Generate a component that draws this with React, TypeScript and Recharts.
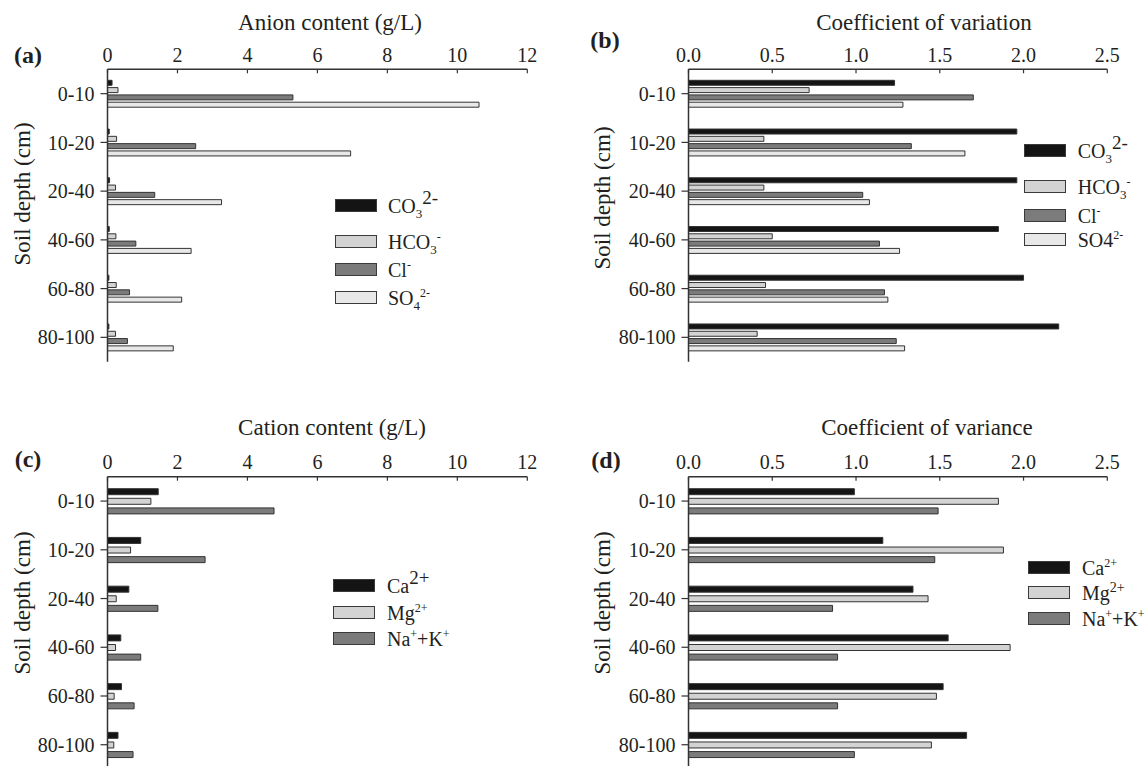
import React from 'react';
import { BarChart, Bar, XAxis, YAxis, Legend } from 'recharts';

const FONT = '"Liberation Serif", "Times New Roman", Times, serif';
const INK = '#231f20';
const AXIS = '#333333';

// ---------- data ----------
const depths = ['0-10', '10-20', '20-40', '40-60', '60-80', '80-100'];

// (a) anion content (g/L)
const anionCO3 = [0.13, 0.05, 0.06, 0.05, 0.04, 0.04];
const anionHCO3 = [0.3, 0.26, 0.23, 0.24, 0.25, 0.23];
const anionCl = [5.3, 2.52, 1.35, 0.81, 0.63, 0.57];
const anionSO4 = [10.62, 6.95, 3.26, 2.39, 2.12, 1.88];

// (b) coefficient of variation of anions
const cvCO3 = [1.23, 1.96, 1.96, 1.85, 2.0, 2.21];
const cvHCO3 = [0.72, 0.45, 0.45, 0.5, 0.46, 0.41];
const cvCl = [1.7, 1.33, 1.04, 1.14, 1.17, 1.24];
const cvSO4 = [1.28, 1.65, 1.08, 1.26, 1.19, 1.29];

// (c) cation content (g/L)
const cationCa = [1.45, 0.95, 0.61, 0.38, 0.4, 0.3];
const cationMg = [1.24, 0.66, 0.25, 0.23, 0.19, 0.18];
const cationNaK = [4.76, 2.79, 1.44, 0.95, 0.76, 0.73];

// (d) coefficient of variance of cations
const cvCa = [0.99, 1.16, 1.34, 1.55, 1.52, 1.66];
const cvMg = [1.85, 1.88, 1.43, 1.92, 1.48, 1.45];
const cvNaK = [1.49, 1.47, 0.86, 0.89, 0.89, 0.99];

const contentTicks = [0, 2, 4, 6, 8, 10, 12];
const cvTicks = [0, 0.5, 1.0, 1.5, 2.0, 2.5];

const BLACK = '#141414';
const LIGHT = '#d3d3d3';
const DARK = '#7b7b7b';
const LIGHTER = '#e8e8e8';

// ---------- label helpers ----------
const sub = (t: string) => (
  <span style={{ fontSize: 13, position: 'relative', top: 5 }}>{t}</span>
);
const sup = (t: string, size = 12, lift = -8) => (
  <span style={{ fontSize: size, position: 'relative', top: lift }}>{t}</span>
);

type Series = { key: string; values: number[]; fill: string; label: React.ReactNode };

const seriesA: Series[] = [
  { key: 'co3', values: anionCO3, fill: BLACK, label: <>CO{sub('3')}{sup('2-', 19, -9)}</> },
  { key: 'hco3', values: anionHCO3, fill: LIGHT, label: <>HCO{sub('3')}{sup('-')}</> },
  { key: 'cl', values: anionCl, fill: DARK, label: <>Cl{sup('-')}</> },
  { key: 'so4', values: anionSO4, fill: LIGHTER, label: <>SO{sub('4')}{sup('2-')}</> },
];
const seriesB: Series[] = [
  { key: 'co3', values: cvCO3, fill: BLACK, label: <>CO{sub('3')}{sup('2-', 19, -9)}</> },
  { key: 'hco3', values: cvHCO3, fill: LIGHT, label: <>HCO{sub('3')}{sup('-')}</> },
  { key: 'cl', values: cvCl, fill: DARK, label: <>Cl{sup('-')}</> },
  { key: 'so4', values: cvSO4, fill: LIGHTER, label: <>SO4{sup('2-')}</> },
];
const seriesC: Series[] = [
  { key: 'ca', values: cationCa, fill: BLACK, label: <>Ca{sup('2+', 19, -9)}</> },
  { key: 'mg', values: cationMg, fill: LIGHT, label: <>Mg{sup('2+')}</> },
  { key: 'nak', values: cationNaK, fill: DARK, label: <>Na{sup('+')}+K{sup('+')}</> },
];
const seriesD: Series[] = [
  { key: 'ca', values: cvCa, fill: BLACK, label: <>Ca{sup('2+')}</> },
  { key: 'mg', values: cvMg, fill: LIGHT, label: <>Mg{sup('2+', 14)}</> },
  { key: 'nak', values: cvNaK, fill: DARK, label: <>Na{sup('+')}+K{sup('+')}</> },
];

function buildRows(series: Series[]) {
  return depths.map((d, i) => {
    const r: Record<string, any> = { depth: d };
    series.forEach((s) => {
      r[s.key] = s.values[i];
    });
    return r;
  });
}

function TopTick(props: any) {
  const { x, y, payload, decimals } = props;
  const v = Number(payload.value);
  return (
    <g>
      <line x1={x} y1={y} x2={x} y2={y + 4} stroke={AXIS} strokeWidth={1.2} />
      <text x={x} y={y - 7.5} textAnchor="middle" fontFamily={FONT} fontSize={20} fill={INK}>
        {v.toFixed(decimals)}
      </text>
    </g>
  );
}

type LegendCfg = { boxX: number; textX: number; rows: number[] };

function makeLegendContent(series: Series[], cfg: LegendCfg) {
  return () => (
    <div style={{ position: 'relative', width: '100%', height: '100%', fontFamily: FONT, color: INK }}>
      {series.map((s, i) => (
        <React.Fragment key={s.key}>
          <div
            style={{
              position: 'absolute',
              left: cfg.boxX,
              top: cfg.rows[i] - 7,
              width: 40,
              height: 11,
              background: s.fill,
              border: '1.5px solid #3a3a3a',
            }}
          />
          <div
            style={{
              position: 'absolute',
              left: cfg.textX,
              top: cfg.rows[i] - 10,
              fontSize: 20,
              lineHeight: '20px',
              whiteSpace: 'nowrap',
            }}
          >
            {s.label}
          </div>
        </React.Fragment>
      ))}
    </div>
  );
}

type PanelProps = {
  left: number;
  top: number;
  width: number;
  height: number;
  margin: { top: number; right: number; bottom: number; left: number };
  series: Series[];
  domain: [number, number];
  ticks: number[];
  decimals: number;
  barSize: number;
  barGap: number;
  legend: LegendCfg;
};

function Panel(p: PanelProps) {
  const data = buildRows(p.series);
  return (
    <div style={{ position: 'absolute', left: p.left, top: p.top }}>
      <BarChart
        width={p.width}
        height={p.height}
        data={data}
        layout="vertical"
        margin={p.margin}
        barSize={p.barSize}
        barGap={p.barGap}
      >
        <XAxis
          type="number"
          orientation="top"
          domain={p.domain}
          ticks={p.ticks}
          allowDataOverflow
          height={30}
          tickSize={0}
          tickMargin={0}
          tickLine={false}
          axisLine={{ stroke: AXIS, strokeWidth: 1.5 }}
          tick={(tp: any) => <TopTick {...tp} decimals={p.decimals} />}
        />
        <YAxis
          type="category"
          dataKey="depth"
          width={100}
          interval={0}
          tickSize={7}
          tickMargin={6}
          tickLine={{ stroke: AXIS, strokeWidth: 1.2 }}
          axisLine={{ stroke: AXIS, strokeWidth: 1.5 }}
          tick={{ fontFamily: FONT, fontSize: 20, fill: INK }}
        />
        <Legend
          layout="horizontal"
          verticalAlign="middle"
          align="center"
          wrapperStyle={{ left: 0, top: 0, width: p.width, height: p.height, pointerEvents: 'none' }}
          content={makeLegendContent(p.series, p.legend)}
        />
        {p.series.map((s) => (
          <Bar
            key={s.key}
            dataKey={s.key}
            fill={s.fill}
            stroke="#333"
            strokeWidth={1}
            isAnimationActive={false}
          />
        ))}
      </BarChart>
    </div>
  );
}

const textBase: React.CSSProperties = {
  position: 'absolute',
  fontFamily: FONT,
  color: INK,
  whiteSpace: 'nowrap',
  lineHeight: 1,
};

function Centered({ x, y, size, bold, rotate, children }: any) {
  return (
    <div
      style={{
        ...textBase,
        left: x,
        top: y,
        fontSize: size,
        fontWeight: bold ? 'bold' : 'normal',
        transform: `translate(-50%, -50%)${rotate ? ' rotate(-90deg)' : ''}`,
      }}
    >
      {children}
    </div>
  );
}

export default function App() {
  const W = 573;
  const H = 380;
  return (
    <div
      style={{
        position: 'absolute',
        left: 0,
        top: 0,
        width: 1146,
        height: 766,
        overflow: 'hidden',
        background: '#ffffff',
      }}
    >
      <Panel
        left={0}
        top={0}
        width={W}
        height={H}
        margin={{ top: 39.3, right: 45.7, bottom: 18.3, left: 7.5 }}
        series={seriesA}
        domain={[0, 12]}
        ticks={contentTicks}
        decimals={0}
        barSize={5}
        barGap={2.3}
        legend={{ boxX: 335, textX: 388, rows: [206, 241.7, 270, 298.3] }}
      />
      <Panel
        left={573}
        top={0}
        width={W}
        height={H}
        margin={{ top: 39.3, right: 38.7, bottom: 18.3, left: 15.5 }}
        series={seriesB}
        domain={[0, 2.5]}
        ticks={cvTicks}
        decimals={1}
        barSize={5}
        barGap={2.3}
        legend={{ boxX: 450.7, textX: 504.7, rows: [151.3, 187, 215.7, 240.3] }}
      />
      <Panel
        left={0}
        top={400}
        width={W}
        height={H}
        margin={{ top: 46.7, right: 45.7, bottom: 10.9, left: 7.5 }}
        series={seriesC}
        domain={[0, 12]}
        ticks={contentTicks}
        decimals={0}
        barSize={6}
        barGap={3.6}
        legend={{ boxX: 333, textX: 387, rows: [186, 213.3, 239] }}
      />
      <Panel
        left={573}
        top={400}
        width={W}
        height={H}
        margin={{ top: 46.7, right: 38.7, bottom: 10.9, left: 15.5 }}
        series={seriesD}
        domain={[0, 2.5]}
        ticks={cvTicks}
        decimals={1}
        barSize={6}
        barGap={3.6}
        legend={{ boxX: 455.4, textX: 509, rows: [168, 193.3, 218.7] }}
      />

      <Centered x={330} y={22} size={23}>Anion content (g/L)</Centered>
      <Centered x={924} y={22} size={23}>Coefficient of variation</Centered>
      <Centered x={332} y={427} size={23}>Cation content (g/L)</Centered>
      <Centered x={927} y={427} size={23}>Coefficient of variance</Centered>

      <Centered x={28} y={55} size={24} bold>(a)</Centered>
      <Centered x={605} y={40} size={24} bold>(b)</Centered>
      <Centered x={28} y={459} size={24} bold>(c)</Centered>
      <Centered x={606} y={460} size={24} bold>(d)</Centered>

      <Centered x={22} y={194} size={23} rotate>Soil depth (cm)</Centered>
      <Centered x={602} y={198} size={23} rotate>Soil depth (cm)</Centered>
      <Centered x={22} y={603} size={23} rotate>Soil depth (cm)</Centered>
      <Centered x={602} y={603} size={23} rotate>Soil depth (cm)</Centered>
    </div>
  );
}
